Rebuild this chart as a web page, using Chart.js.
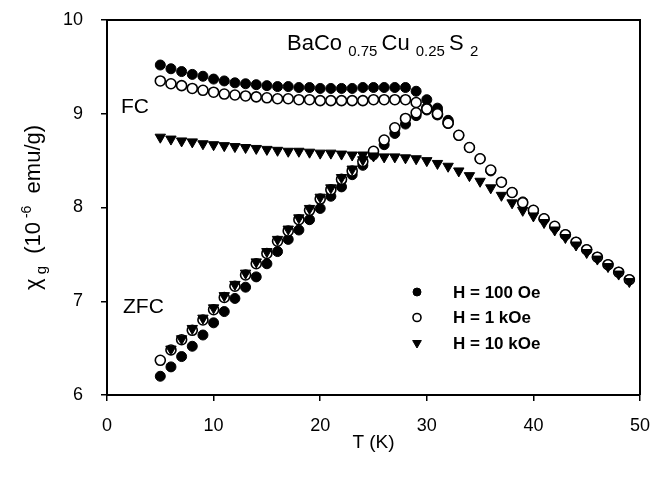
<!DOCTYPE html>
<html>
<head>
<meta charset="utf-8">
<script src="https://cdn.jsdelivr.net/npm/chart.js@4/dist/chart.umd.min.js"></script>
<style>
  body { margin: 0; background: #fff; }
</style>
</head>
<body>
<canvas id="chi-chart" width="651" height="479"></canvas>
<script>
// temperature (K), one point per kelvin
const temps = [5, 6, 7, 8, 9, 10, 11, 12, 13, 14, 15, 16, 17, 18, 19, 20, 21, 22, 23, 24, 25, 26, 27,
  28, 29, 30, 31, 32, 33, 34, 35, 36, 37, 38, 39, 40, 41, 42, 43, 44, 45, 46, 47, 48, 49];

// chi_g (10^-6 emu/g), null where no point
const fc100 = [9.52, 9.48, 9.45, 9.42, 9.40, 9.37, 9.35, 9.33, 9.32, 9.31, 9.30, 9.29, 9.29, 9.28,
  9.28, 9.27, 9.27, 9.27, 9.27, 9.28, 9.28, 9.28, 9.28, 9.28, 9.24, 9.15, 9.06, 8.93,
  null, null, null, null, null, null, null, null, null, null, null, null, null, null, null, null, null];
const zfc100 = [6.20, 6.30, 6.41, 6.52, 6.64, 6.77, 6.89, 7.03, 7.15, 7.26, 7.40, 7.53, 7.66, 7.76,
  7.87, 7.99, 8.12, 8.22, 8.35, 8.45, 8.56, 8.67, 8.79, 8.89, 8.98, 9.04, 9.03, 8.92, 8.77, 8.64,
  8.52, 8.39, 8.27, 8.16, 8.06, 7.97, 7.88, 7.79, 7.71, 7.63, 7.55, 7.47, 7.39, 7.31, 7.23];
const fc1k = [9.35, 9.32, 9.30, 9.27, 9.25, 9.23, 9.21, 9.20, 9.19, 9.18, 9.17, 9.16, 9.16, 9.15,
  9.15, 9.14, 9.14, 9.14, 9.14, 9.14, 9.15, 9.15, 9.15, 9.15, 9.12, 9.06, 8.99, 8.90,
  null, null, null, null, null, null, null, null, null, null, null, null, null, null, null, null, null];
const zfc1k = [6.37, 6.48, 6.59, 6.69, 6.80, 6.91, 7.04, 7.16, 7.28, 7.40, 7.51, 7.64, 7.75, 7.87,
  7.97, 8.09, 8.19, 8.30, 8.39, 8.49, 8.60, 8.72, 8.85, 8.95, 9.01, 9.05, 9.00, 8.90, 8.77, 8.64,
  8.52, 8.40, 8.27, 8.16, 8.05, 7.97, 7.88, 7.80, 7.71, 7.63, 7.55, 7.47, 7.39, 7.31, 7.23];
const fc10k = [8.75, 8.73, 8.71, 8.70, 8.68, 8.67, 8.66, 8.65, 8.64, 8.63, 8.62, 8.61, 8.60, 8.60,
  8.59, 8.58, 8.58, 8.57, 8.56, 8.56, 8.55, 8.54, 8.54, 8.53, 8.52, 8.50, 8.47, 8.44, 8.39, 8.34,
  8.28, 8.21, 8.13, 8.05, 7.97, 7.91, 7.84, 7.76, 7.68, 7.60, 7.52, 7.45, 7.37, 7.29, 7.21];
const zfc10k = [null, 6.49, 6.60, 6.71, 6.82, 6.93, 7.06, 7.18, 7.30, 7.42, 7.53, 7.66, 7.77, 7.89,
  7.99, 8.11, 8.21, 8.32, 8.41, 8.51,
  null, null, null, null, null, null, null, null, null, null, null, null, null, null, null, null,
  null, null, null, null, null, null, null, null, null];

const legendLabels = ['H = 100 Oe', 'H = 1 kOe', 'H = 10 kOe'];
const xTicks = [0, 10, 20, 30, 40, 50];
const yTicks = [6, 7, 8, 9, 10];

const FONT = 'Arial, "Liberation Sans", sans-serif';

function toPoints(a, b) {
  let pts = [];
  [a, b].forEach(function(arr) {
    for (let i = 0; i < temps.length; i += 1) {
      if (arr[i] !== null) pts.push({x: temps[i], y: arr[i]});
    }
  });
  return pts;
}

// text pieces with sub/superscripts, left to right from (x, y)
function richWidth(ctx, parts) {
  let w = 0;
  parts.forEach(function(p) {
    ctx.font = p.size + 'px ' + FONT;
    w += ctx.measureText(p.t).width;
  });
  return w;
}
function drawRich(ctx, parts, x, y) {
  parts.forEach(function(p) {
    ctx.font = p.size + 'px ' + FONT;
    ctx.fillText(p.t, x, y + (p.dy || 0));
    x += ctx.measureText(p.t).width;
  });
}

const extras = {
  id: 'extras',
  afterDraw: function(chart) {
    const ctx = chart.ctx;
    const a = chart.chartArea;
    ctx.save();
    // frame on top and right
    ctx.strokeStyle = '#000';
    ctx.lineWidth = 2;
    ctx.beginPath();
    ctx.moveTo(a.left, a.top);
    ctx.lineTo(a.right, a.top);
    ctx.lineTo(a.right, a.bottom);
    ctx.stroke();

    ctx.fillStyle = '#000';
    ctx.textBaseline = 'alphabetic';
    ctx.textAlign = 'left';

    // compound name
    drawRich(ctx, [
      {t: 'BaCo ', size: 22},
      {t: '0.75 ', size: 15, dy: 6},
      {t: 'Cu ', size: 22},
      {t: '0.25 ', size: 15, dy: 6},
      {t: 'S ', size: 22},
      {t: '2', size: 15, dy: 6}
    ], 287, 50);

    ctx.font = '21px ' + FONT;
    ctx.fillText('FC', 121, 113);
    ctx.fillText('ZFC', 123, 313);

    // x title
    ctx.font = '19px ' + FONT;
    ctx.textAlign = 'center';
    ctx.fillText('T (K)', (a.left + a.right) / 2, 448);

    // y title, rotated
    const yParts = [
      {t: '\u03c7', size: 22},
      {t: ' g', size: 15, dy: 6},
      {t: '  (10', size: 22},
      {t: ' -6', size: 14, dy: -9},
      {t: '  emu/g)', size: 22}
    ];
    ctx.translate(40, (a.top + a.bottom) / 2);
    ctx.rotate(-Math.PI / 2);
    ctx.textAlign = 'left';
    drawRich(ctx, yParts, -richWidth(ctx, yParts) / 2, 0);
    ctx.setTransform(1, 0, 0, 1, 0, 0);

    // legend
    const sets = chart.data.datasets;
    for (let i = 0; i < legendLabels.length; i += 1) {
      const ds = sets[i];
      const yy = 292 + i * 25.5;
      ctx.fillStyle = ds.backgroundColor;
      ctx.strokeStyle = ds.borderColor;
      ctx.lineWidth = ds.borderWidth;
      Chart.helpers.drawPoint(ctx, {
        pointStyle: ds.pointStyle,
        rotation: ds.rotation,
        radius: ds.pointStyle === 'triangle' ? 5 : 4,
        borderWidth: ds.borderWidth
      }, 417, yy);
      ctx.fillStyle = '#000';
      ctx.font = 'bold 17px ' + FONT;
      ctx.textAlign = 'left';
      ctx.textBaseline = 'middle';
      ctx.fillText(legendLabels[i], 453, yy + 1);
    }
    ctx.restore();
  }
};

const ctx = document.getElementById('chi-chart').getContext('2d');
const chart = new Chart(ctx, {
  type: 'scatter',
  data: {
    datasets: [{
      label: legendLabels[0],
      data: toPoints(fc100, zfc100),
      pointStyle: 'circle',
      pointRadius: 5,
      backgroundColor: '#000',
      borderColor: '#000',
      borderWidth: 1,
      order: 3
    }, {
      label: legendLabels[1],
      data: toPoints(fc1k, zfc1k),
      pointStyle: 'circle',
      pointRadius: 5,
      backgroundColor: '#fff',
      borderColor: '#000',
      borderWidth: 1.6,
      order: 2
    }, {
      label: legendLabels[2],
      data: toPoints(fc10k, zfc10k),
      pointStyle: 'triangle',
      rotation: 180,
      pointRadius: 6,
      backgroundColor: '#000',
      borderColor: '#000',
      borderWidth: 1,
      order: 1
    }]
  },
  options: {
    responsive: false,
    animation: false,
    layout: { padding: { top: 20, right: 11, left: 0, bottom: 0 } },
    plugins: {
      legend: { display: false },
      tooltip: { enabled: false }
    },
    scales: {
      x: {
        type: 'linear',
        min: 0,
        max: 50,
        afterBuildTicks: function(s) { s.ticks = xTicks.map(function(v) { return {value: v}; }); },
        afterFit: function(s) { s.height = 84; s.paddingLeft = 0; s.paddingRight = 0; },
        ticks: { color: '#000', font: { family: FONT, size: 18 }, padding: 14, maxRotation: 0 },
        grid: { drawOnChartArea: false, color: '#000', tickLength: 6, lineWidth: 1.5 },
        border: { color: '#000', width: 2 }
      },
      y: {
        min: 6,
        max: 10,
        afterBuildTicks: function(s) { s.ticks = yTicks.map(function(v) { return {value: v}; }); },
        afterFit: function(s) { s.width = 107; s.paddingTop = 0; s.paddingBottom = 0; },
        ticks: { color: '#000', font: { family: FONT, size: 18 }, padding: 18 },
        grid: { drawOnChartArea: false, color: '#000', tickLength: 6, lineWidth: 1.5 },
        border: { color: '#000', width: 2 }
      }
    }
  },
  plugins: [extras]
});
</script>
</body>
</html>
